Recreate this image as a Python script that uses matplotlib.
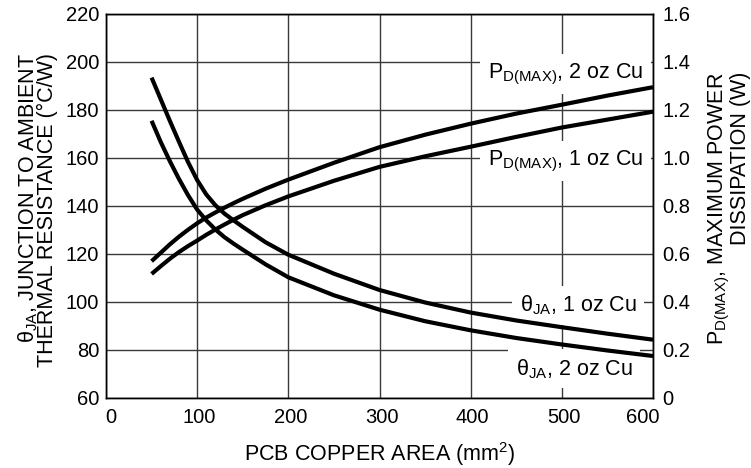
import matplotlib
matplotlib.use("Agg")
import matplotlib.pyplot as plt
from matplotlib.transforms import ScaledTranslation

plt.rcParams["font.family"] = ["Liberation Sans", "DejaVu Sans"]
plt.rcParams["mathtext.default"] = "regular"

# PCB copper area (mm^2)
area = [50, 60, 70, 80, 90, 100, 110, 120, 130, 140, 150, 175, 200,
        250, 300, 350, 400, 450, 500, 550, 600]

# Junction-to-ambient thermal resistance (°C/W)
theta_1oz = [193.5, 184.5, 175.5, 166.8, 158.3, 150.8, 144.8, 140.3, 136.8,
             134.0, 131.3, 124.9, 119.7, 111.8, 105.0, 99.8, 95.6, 92.3,
             89.5, 86.8, 84.3]
theta_2oz = [175.5, 166.7, 158.7, 151.3, 144.5, 138.5, 134.0, 130.2, 127.0,
             124.3, 121.8, 115.7, 110.3, 102.8, 96.8, 92.0, 88.2, 85.0,
             82.3, 79.8, 77.5]

# Maximum power dissipation (W)
pd_2oz = [0.570, 0.605, 0.640, 0.672, 0.701, 0.728, 0.752, 0.773, 0.793,
          0.812, 0.830, 0.872, 0.910, 0.980, 1.045, 1.097, 1.143, 1.185,
          1.222, 1.260, 1.295]
pd_1oz = [0.517, 0.549, 0.580, 0.608, 0.633, 0.656, 0.680, 0.702, 0.723,
          0.743, 0.762, 0.803, 0.840, 0.905, 0.963, 1.007, 1.047, 1.088,
          1.127, 1.160, 1.193]

x_ticks = [0, 100, 200, 300, 400, 500, 600]
left_ticks = [60, 80, 100, 120, 140, 160, 180, 200, 220]
right_ticks = [0, 0.2, 0.4, 0.6, 0.8, 1.0, 1.2, 1.4, 1.6]
right_ticklabels = ["0", "0.2", "0.4", "0.6", "0.8", "1.0", "1.2", "1.4", "1.6"]

W, H = 751, 468
fig = plt.figure(figsize=(W / 100, H / 100), dpi=100)
ax = fig.add_axes([106 / W, 1 - 398 / H, (653 - 106) / W, (398 - 14) / H])
ax2 = ax.twinx()

TICK_FS = 14.5
LABEL_FS = 15.5
TITLE_FS = 15.5
LW = 3.0
grid_kw = dict(color="#3a3a3a", linewidth=1.0)

ax.set_xlim(0, 600)
ax.set_ylim(60, 220)
ax2.set_ylim(0, 1.6)
ax.set_xticks(x_ticks)
ax.set_yticks(left_ticks)
ax2.set_yticks(right_ticks)
ax2.set_yticklabels(right_ticklabels)

ax.set_axisbelow(True)
ax.grid(True, **grid_kw)
ax.tick_params(axis="both", length=0, labelsize=TICK_FS)
ax.tick_params(axis="y", pad=5)
ax.tick_params(axis="x", pad=7)
ax2.tick_params(axis="y", length=0, labelsize=TICK_FS, pad=7)
for sp in list(ax.spines.values()) + list(ax2.spines.values()):
    sp.set_linewidth(1.0)
    sp.set_color("black")
ax2.patch.set_visible(False)

# nudge the end labels of the x axis inward
x_label_shift = {0: 5, 600: -10}
for val, tick in zip(x_ticks, ax.xaxis.get_major_ticks()):
    dx = x_label_shift.get(val, 2)
    tick.label1.set_transform(tick.label1.get_transform()
                              + ScaledTranslation(dx / 100, 0, fig.dpi_scale_trans))

ax.plot(area, theta_1oz, color="black", lw=LW, zorder=3, solid_capstyle="butt")
ax.plot(area, theta_2oz, color="black", lw=LW, zorder=3, solid_capstyle="butt")
ax2.plot(area, pd_2oz, color="black", lw=LW, zorder=3, solid_capstyle="butt")
ax2.plot(area, pd_1oz, color="black", lw=LW, zorder=3, solid_capstyle="butt")

box = dict(boxstyle="square,pad=0.35", fc="white", ec="none")
lab_kw = dict(ha="right", va="baseline", fontsize=LABEL_FS, bbox=box, zorder=2.5)
ax.text(589, 193.2, "P$_{D(MAX)}$, 2 oz Cu", **lab_kw)
ax.text(589, 157.1, "P$_{D(MAX)}$, 1 oz Cu", **lab_kw)
ax.text(582, 96.0, "θ$_{JA}$, 1 oz Cu", **lab_kw)
ax.text(578, 69.6, "θ$_{JA}$, 2 oz Cu", **lab_kw)

# Axis titles, placed in pixel coordinates
def ftext(px, py, s, **kw):
    fig.text(px / W, 1 - py / H, s, fontsize=TITLE_FS, **kw)

ftext(379.5, 461, "PCB COPPER AREA (mm$^{2}$)", ha="center", va="baseline")
rot = dict(rotation=90, rotation_mode="anchor", ha="right", va="baseline")
ftext(34, 53, "θ$_{JA}$, JUNCTION TO AMBIENT", **rot)
ftext(53.5, 53, "THERMAL RESISTANCE (°C/W)", **rot)
ftext(723, 72, "P$_{D(MAX)}$, MAXIMUM POWER", **rot)
ftext(746, 72, "DISSIPATION (W)", **rot)

fig.savefig("out.png", dpi=100)
